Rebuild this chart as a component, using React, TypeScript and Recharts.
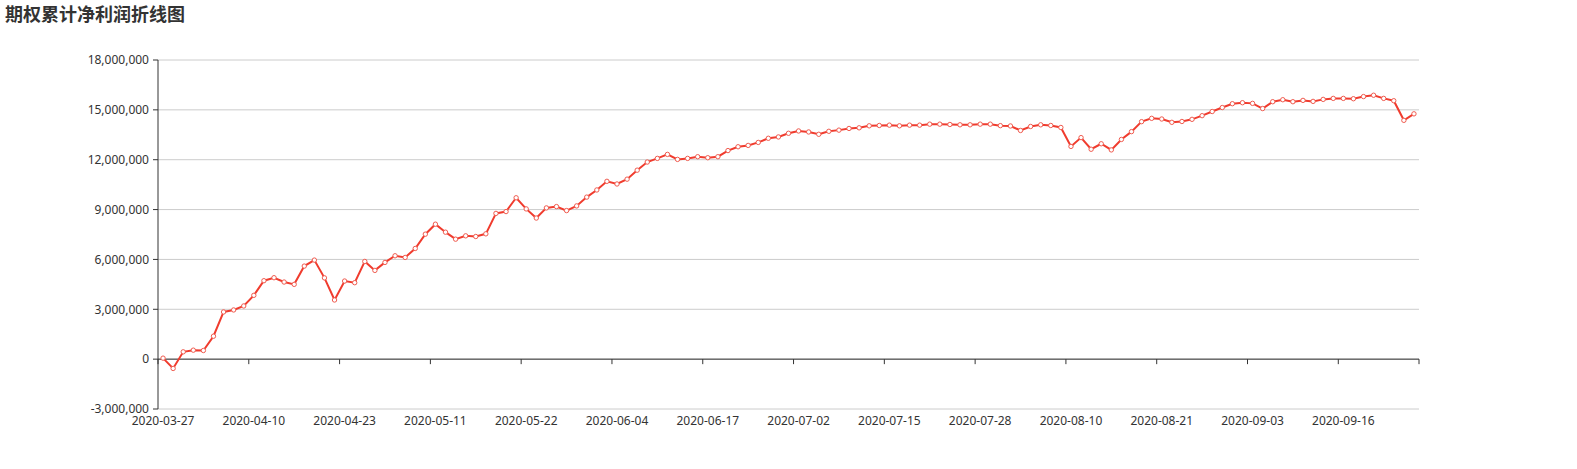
import { CartesianGrid, ComposedChart, Line, ReferenceLine, XAxis, YAxis } from 'recharts';

const title = '期权累计净利润折线图';

const dates = [
  '2020-03-27', '2020-03-30', '2020-03-31', '2020-04-01', '2020-04-02', '2020-04-03', '2020-04-07', '2020-04-08', '2020-04-09',
  '2020-04-10', '2020-04-13', '2020-04-14', '2020-04-15', '2020-04-16', '2020-04-17', '2020-04-20', '2020-04-21', '2020-04-22',
  '2020-04-23', '2020-04-24', '2020-04-27', '2020-04-28', '2020-04-29', '2020-04-30', '2020-05-06', '2020-05-07', '2020-05-08',
  '2020-05-11', '2020-05-12', '2020-05-13', '2020-05-14', '2020-05-15', '2020-05-18', '2020-05-19', '2020-05-20', '2020-05-21',
  '2020-05-22', '2020-05-25', '2020-05-26', '2020-05-27', '2020-05-28', '2020-05-29', '2020-06-01', '2020-06-02', '2020-06-03',
  '2020-06-04', '2020-06-05', '2020-06-08', '2020-06-09', '2020-06-10', '2020-06-11', '2020-06-12', '2020-06-15', '2020-06-16',
  '2020-06-17', '2020-06-18', '2020-06-19', '2020-06-22', '2020-06-23', '2020-06-24', '2020-06-29', '2020-06-30', '2020-07-01',
  '2020-07-02', '2020-07-03', '2020-07-06', '2020-07-07', '2020-07-08', '2020-07-09', '2020-07-10', '2020-07-13', '2020-07-14',
  '2020-07-15', '2020-07-16', '2020-07-17', '2020-07-20', '2020-07-21', '2020-07-22', '2020-07-23', '2020-07-24', '2020-07-27',
  '2020-07-28', '2020-07-29', '2020-07-30', '2020-07-31', '2020-08-03', '2020-08-04', '2020-08-05', '2020-08-06', '2020-08-07',
  '2020-08-10', '2020-08-11', '2020-08-12', '2020-08-13', '2020-08-14', '2020-08-17', '2020-08-18', '2020-08-19', '2020-08-20',
  '2020-08-21', '2020-08-24', '2020-08-25', '2020-08-26', '2020-08-27', '2020-08-28', '2020-08-31', '2020-09-01', '2020-09-02',
  '2020-09-03', '2020-09-04', '2020-09-07', '2020-09-08', '2020-09-09', '2020-09-10', '2020-09-11', '2020-09-14', '2020-09-15',
  '2020-09-16', '2020-09-17', '2020-09-18', '2020-09-21', '2020-09-22', '2020-09-23', '2020-09-24', '2020-09-25'
];

// cumulative net profit, yuan
const profit = [
  60000, -560000, 440000, 540000, 520000, 1380000, 2840000, 2960000, 3200000,
  3840000, 4720000, 4900000, 4640000, 4500000, 5600000, 5960000, 4890000, 3560000,
  4700000, 4600000, 5880000, 5340000, 5820000, 6220000, 6120000, 6660000, 7520000,
  8120000, 7640000, 7220000, 7420000, 7380000, 7540000, 8770000, 8880000, 9710000,
  9040000, 8490000, 9100000, 9180000, 8940000, 9220000, 9750000, 10180000, 10700000,
  10540000, 10830000, 11370000, 11860000, 12080000, 12320000, 12020000, 12080000, 12180000,
  12120000, 12180000, 12550000, 12780000, 12860000, 13040000, 13290000, 13370000, 13590000,
  13730000, 13670000, 13530000, 13710000, 13780000, 13880000, 13920000, 14040000, 14060000,
  14080000, 14040000, 14080000, 14080000, 14140000, 14140000, 14120000, 14100000, 14100000,
  14140000, 14140000, 14050000, 14030000, 13760000, 14000000, 14100000, 14060000, 13940000,
  12800000, 13330000, 12630000, 12960000, 12590000, 13220000, 13690000, 14290000, 14490000,
  14450000, 14250000, 14300000, 14430000, 14650000, 14900000, 15140000, 15370000, 15430000,
  15390000, 15080000, 15490000, 15610000, 15490000, 15570000, 15510000, 15630000, 15690000,
  15690000, 15670000, 15800000, 15880000, 15690000, 15550000, 14370000, 14760000
];

const yTicks = [-3000000, 0, 3000000, 6000000, 9000000, 12000000, 15000000, 18000000];

const data = dates.map((d, i) => ({ date: d, profit: profit[i] }));

const W = 1577;
const H = 469;
const LEFT = 158;
const RIGHT = 158;
const PLOT_TOP = 60;
const PLOT_BOTTOM = 409;
const Y_MIN = yTicks[0];
const Y_MAX = yTicks[yTicks.length - 1];
const ZERO_Y = PLOT_TOP + ((PLOT_BOTTOM - PLOT_TOP) * Y_MAX) / (Y_MAX - Y_MIN);
const HALF_BAND = (W - LEFT - RIGHT) / dates.length / 2;
const LABEL_EVERY = 9;
const AXIS = '#333';
const FONT = '"Noto Sans", sans-serif';

function DateTick(props: any) {
  const { x, payload, index } = props;
  const half = payload && payload.offset ? payload.offset : HALF_BAND;
  const show = index % LABEL_EVERY === 0;
  const last = index === dates.length - 1;
  return (
    <g>
      {show && <line x1={x - half} x2={x - half} y1={ZERO_Y} y2={ZERO_Y + 5} stroke={AXIS} />}
      {last && <line x1={x + half} x2={x + half} y1={ZERO_Y} y2={ZERO_Y + 5} stroke={AXIS} />}
      {show && (
        <text x={x} y={PLOT_BOTTOM + 16} textAnchor="middle" fill={AXIS} fontSize={12} fontFamily={FONT}>
          {payload.value}
        </text>
      )}
    </g>
  );
}

export default function App() {
  return (
    <div style={{ position: 'absolute', left: 0, top: 0, width: W, height: H, background: '#fff' }}>
      <div
        style={{
          position: 'absolute',
          left: 5,
          top: 4,
          fontSize: 18,
          lineHeight: '18px',
          fontWeight: 'bold',
          color: '#333',
          fontFamily: '"Noto Sans CJK SC", sans-serif'
        }}
      >
        {title}
      </div>
      <ComposedChart width={W} height={H} data={data} margin={{ top: PLOT_TOP, right: RIGHT, bottom: 30, left: 0 }}>
        <CartesianGrid vertical={false} stroke="#ccc" />
        <XAxis
          dataKey="date"
          scale="band"
          interval={0}
          axisLine={false}
          tickLine={false}
          height={30}
          tick={<DateTick />}
        />
        <YAxis
          width={LEFT}
          domain={[Y_MIN, Y_MAX]}
          ticks={yTicks}
          tickFormatter={(v: number) => v.toLocaleString('en-US')}
          axisLine={{ stroke: AXIS }}
          tickLine={{ stroke: AXIS }}
          tickSize={5}
          tickMargin={4}
          tick={{ fill: AXIS, fontSize: 12, fontFamily: FONT }}
        />
        <ReferenceLine y={0} stroke={AXIS} />
        <Line
          dataKey="profit"
          type="linear"
          stroke="#f03c2e"
          strokeWidth={2}
          dot={{ r: 2.2, fill: '#fff', stroke: '#f05b4f', strokeWidth: 1 }}
          isAnimationActive={false}
        />
      </ComposedChart>
    </div>
  );
}
